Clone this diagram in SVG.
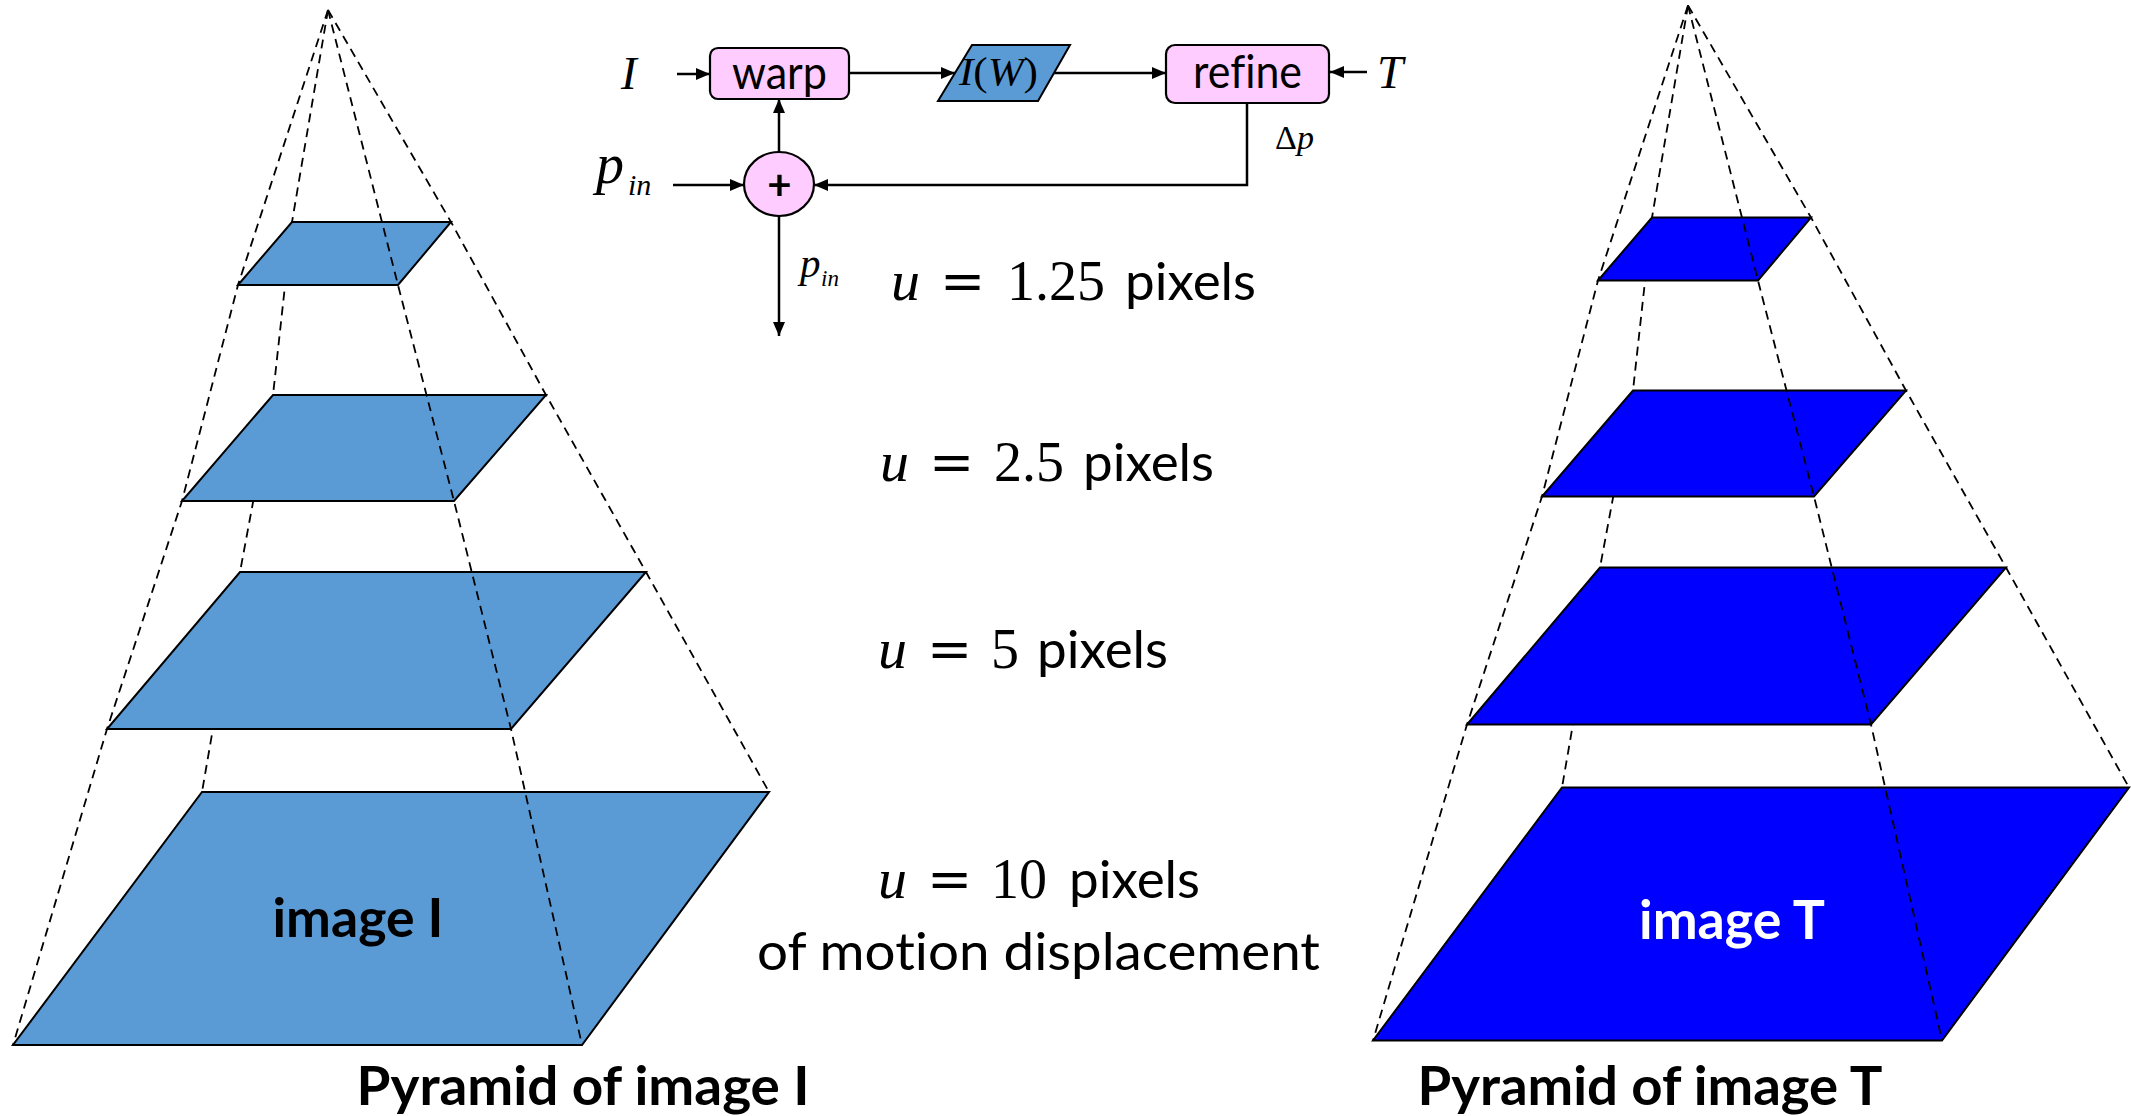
<svg xmlns="http://www.w3.org/2000/svg" width="2131" height="1116" viewBox="0 0 2131 1116">
<defs>
<style>
text{font-variant-ligatures:none}
.sans{font-family:Lato,"Open Sans","Liberation Sans",sans-serif;fill:#000}
.bold{font-weight:bold}
.mi{font-family:"Liberation Serif","Times New Roman",serif;font-style:italic}
.mr{font-family:"Liberation Serif","Times New Roman",serif;font-style:normal}
.eq{font-family:"DejaVu Serif",serif;font-style:normal}
.box{fill:#FFCCFF;stroke:#000;stroke-width:2.2}
.l1{fill:#5B9BD5;stroke:#000;stroke-width:2}
.l2{fill:#0000FF;stroke:#000;stroke-width:2}
.dash{fill:none;stroke:#000;stroke-width:1.8;stroke-dasharray:9 6}
.conn{fill:none;stroke:#000;stroke-width:2.5}
</style>
<marker id="ah" markerUnits="userSpaceOnUse" markerWidth="14" markerHeight="12" refX="14" refY="6" orient="auto">
<path d="M0,0 L14,6 L0,12 z" fill="#000"/>
</marker>
</defs>
<rect width="2131" height="1116" fill="#fff"/>

<g id="pyramid-I">
<polyline class="dash" points="328,10 238,285 182,501 107,729 13,1045"/>
<polyline class="dash" points="328,10 292,222 273,395 240,572 202,792"/>
<polyline class="dash" points="328,10 451,222 546,395 646,572 769,792"/>
<polygon id="I-level1" class="l1" points="292,222 451,222 398,285 238,285"/>
<polygon id="I-level2" class="l1" points="273,395 546,395 454,501 182,501"/>
<polygon id="I-level3" class="l1" points="240,572 646,572 511,729 107,729"/>
<polygon id="I-level4" class="l1" points="202,792 769,792 582,1045 13,1045"/>
<polyline class="dash" points="328,10 398,285 454,501 511,729 582,1045"/>
<text class="sans bold" x="358" y="937" font-size="53" text-anchor="middle" textLength="171" lengthAdjust="spacingAndGlyphs">image I</text>
</g>

<g id="pyramid-T">
<g transform="translate(1360,-4.5)">
<polyline class="dash" points="328,10 238,285 182,501 107,729 13,1045"/>
<polyline class="dash" points="328,10 292,222 273,395 240,572 202,792"/>
<polyline class="dash" points="328,10 451,222 546,395 646,572 769,792"/>
<polygon id="T-level1" class="l2" points="292,222 451,222 398,285 238,285"/>
<polygon id="T-level2" class="l2" points="273,395 546,395 454,501 182,501"/>
<polygon id="T-level3" class="l2" points="240,572 646,572 511,729 107,729"/>
<polygon id="T-level4" class="l2" points="202,792 769,792 582,1045 13,1045"/>
<polyline class="dash" points="328,10 398,285 454,501 511,729 582,1045"/>
</g>
<text class="sans bold" x="1732" y="939" font-size="53" text-anchor="middle" textLength="186" lengthAdjust="spacingAndGlyphs" style="fill:#fff">image T</text>
</g>

<g id="titles">
<text class="sans bold" x="583" y="1105" font-size="53" text-anchor="middle" textLength="453" lengthAdjust="spacingAndGlyphs">Pyramid of image I</text>
<text class="sans bold" x="1650" y="1105" font-size="53" text-anchor="middle" textLength="465" lengthAdjust="spacingAndGlyphs">Pyramid of image T</text>
</g>

<g id="scale-labels">
<text y="300" font-size="56"><tspan class="mi" x="891" font-size="58">u </tspan><tspan class="eq" x="940" font-size="54">= </tspan><tspan class="mr" x="1007">1.25 </tspan><tspan class="sans" x="1125" font-size="53">pixels</tspan></text>
<text y="481" font-size="56"><tspan class="mi" x="880" font-size="58">u </tspan><tspan class="eq" x="929" font-size="54">= </tspan><tspan class="mr" x="994">2.5 </tspan><tspan class="sans" x="1083" font-size="53">pixels</tspan></text>
<text y="668" font-size="56"><tspan class="mi" x="878" font-size="58">u </tspan><tspan class="eq" x="927" font-size="54">= </tspan><tspan class="mr" x="991">5 </tspan><tspan class="sans" x="1037" font-size="53">pixels</tspan></text>
<text y="898" font-size="56"><tspan class="mi" x="878" font-size="58">u </tspan><tspan class="eq" x="927" font-size="54">= </tspan><tspan class="mr" x="991">10 </tspan><tspan class="sans" x="1069" font-size="53">pixels</tspan></text>
<text class="sans" x="1038.5" y="970" font-size="53" text-anchor="middle" textLength="563" lengthAdjust="spacingAndGlyphs">of motion displacement</text>
</g>

<g id="connectors">
<path class="conn" d="M677,74 L710,74" marker-end="url(#ah)"/>
<path class="conn" d="M849,73 L955,73" marker-end="url(#ah)"/>
<path class="conn" d="M1054,73 L1166,73" marker-end="url(#ah)"/>
<path class="conn" d="M1367,72 L1330,72" marker-end="url(#ah)"/>
<path class="conn" d="M1247,103 L1247,185 L814,185" marker-end="url(#ah)"/>
<path class="conn" d="M673,185 L744,185" marker-end="url(#ah)"/>
<path class="conn" d="M779,152 L779,99" marker-end="url(#ah)"/>
<path class="conn" d="M779,216 L779,336" marker-end="url(#ah)"/>
</g>

<g id="warp">
<rect class="box" x="710" y="48" width="139" height="51" rx="8"/>
<text class="sans" x="779.5" y="89" font-size="46" text-anchor="middle" textLength="95" lengthAdjust="spacingAndGlyphs">warp</text>
</g>

<g id="IW">
<polygon fill="#5B9BD5" stroke="#000" stroke-width="2" points="938,101 1038,101 1070,45 972,45"/>
<text x="959" y="85" font-size="40" textLength="79" lengthAdjust="spacingAndGlyphs"><tspan class="mi">I</tspan><tspan class="mr">(</tspan><tspan class="mi">W</tspan><tspan class="mr">)</tspan></text>
</g>

<g id="refine">
<rect class="box" x="1166" y="45" width="163" height="58" rx="9"/>
<text class="sans" x="1247.5" y="88" font-size="46" text-anchor="middle" textLength="109" lengthAdjust="spacingAndGlyphs">refine</text>
</g>

<g id="sum">
<ellipse class="box" cx="779" cy="184" rx="35" ry="32"/>
<text class="sans bold" x="779.5" y="200" font-size="42" text-anchor="middle">+</text>
</g>

<g id="input-I"><text class="mi" x="621" y="89" font-size="47">I</text></g>
<g id="input-T"><text class="mi" x="1377" y="88" font-size="47">T</text></g>
<g id="input-pin"><text x="596" y="183" font-size="56"><tspan class="mi">p</tspan><tspan class="mi" x="628" y="195" font-size="30">in</tspan></text></g>
<g id="output-pin"><text x="800" y="277" font-size="41"><tspan class="mi">p</tspan><tspan class="mi" x="821" y="286" font-size="23">in</tspan></text></g>
<g id="delta-p"><text x="1275" y="149" font-size="34"><tspan class="mr">Δ</tspan><tspan class="mi">p</tspan></text></g>
</svg>
